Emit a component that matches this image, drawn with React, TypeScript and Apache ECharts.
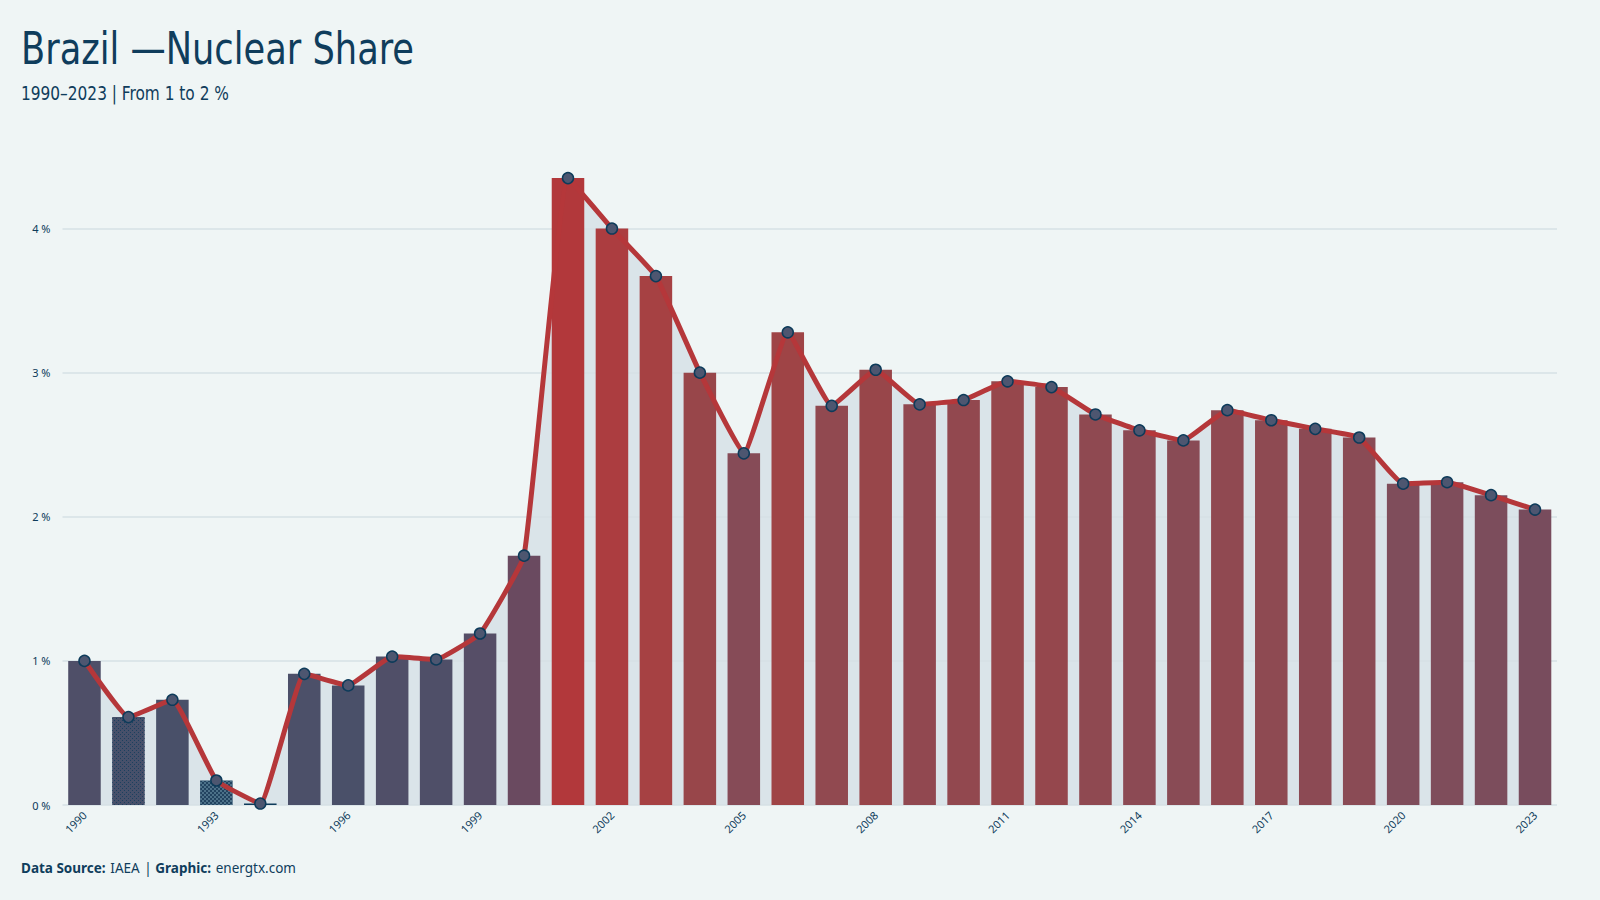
import React, { useEffect, useRef } from "react";
import * as echarts from "echarts";

const years = [
  "1990","1991","1992","1993","1994","1995","1996","1997","1998","1999",
  "2000","2001","2002","2003","2004","2005","2006","2007","2008","2009",
  "2010","2011","2012","2013","2014","2015","2016","2017","2018","2019",
  "2020","2021","2022","2023",
];
const nuclearShare = [
  1.0, 0.61, 0.73, 0.17, 0.01, 0.91, 0.83, 1.03, 1.01, 1.19,
  1.73, 4.35, 4.0, 3.67, 3.0, 2.44, 3.28, 2.77, 3.02, 2.78,
  2.81, 2.94, 2.9, 2.71, 2.6, 2.53, 2.74, 2.67, 2.61, 2.55,
  2.23, 2.24, 2.15, 2.05,
];
const dottedYears = ["1991"];
const checkedYears = ["1993"];

const titleText = "Brazil —Nuclear Share";
const subtitleText = "1990–2023 | From 1 to 2 %";

const NAVY = "#0d3b5a";
const RED = "#b5373a";
const TITLE_FONT = "'DejaVu Sans Condensed', 'DejaVu Sans', sans-serif";

export default function App() {
  const ref = useRef<HTMLDivElement>(null);
  useEffect(() => {
    document.body.style.margin = "0";
    if (!ref.current) return;
    const chart = echarts.init(ref.current, undefined, { renderer: "svg" });
    const barData = nuclearShare.map((v, i) => {
      const y = years[i];
      if (dottedYears.includes(y)) {
        return {
          value: v,
          itemStyle: {
            decal: {
              symbol: "rect",
              symbolSize: 1,
              color: "rgba(13,59,90,0.75)",
              dashArrayX: [[1, 3], [0, 2, 1, 1]],
              dashArrayY: [1, 1],
            },
          },
        };
      }
      if (checkedYears.includes(y)) {
        return {
          value: v,
          itemStyle: {
            decal: {
              symbol: "rect",
              symbolSize: 1,
              color: "rgba(110,150,170,0.55)",
              dashArrayX: [[2, 2], [0, 2, 2, 0]],
              dashArrayY: [2, 0],
            },
          },
        };
      }
      return v;
    });
    const gridColor = "#d6e0e4";
    chart.setOption({
      animation: false,
      backgroundColor: "#eff5f5",
      textStyle: { fontFamily: "'Noto Sans', sans-serif" },
      graphic: [
        {
          type: "text",
          x: 21,
          y: 27,
          scaleX: 0.89,
          style: {
            text: titleText,
            font: `normal 44px ${TITLE_FONT}`,
            fill: "#0f3d5c",
            verticalAlign: "top",
          },
        },
        {
          type: "text",
          x: 21,
          y: 84,
          scaleX: 0.9,
          style: {
            text: subtitleText,
            font: `normal 19px ${TITLE_FONT}`,
            fill: "#0f3d5c",
            verticalAlign: "top",
          },
        },
      ],
      title: [
        {
          text: "{b|Data Source:} {n|IAEA} {n|| }{b|Graphic:} {n|energtx.com}",
          left: 16,
          top: 854,
          textStyle: {
            fontWeight: "normal",
            rich: {
              b: { fontFamily: "'Noto Sans', sans-serif", fontWeight: "bold", fontSize: 13.5, color: "#0f3d5c" },
              n: { fontFamily: "'Noto Sans', sans-serif", fontWeight: "normal", fontSize: 13.5, color: "#0f3d5c" },
            },
          },
        },
      ],
      grid: { left: 62.5, right: 43, top: 156.5, bottom: 95, containLabel: false },
      visualMap: {
        type: "continuous",
        show: false,
        seriesIndex: 0,
        min: 0,
        max: 4.4,
        inRange: {
          color: [
            "#0d3b5a", "#44506a", "#4b5069", "#5a4d66", "#6b4a60",
            "#7e4d5c", "#8d4a53", "#9a4548", "#a44244", "#ab3e41", "#b3373a",
          ],
        },
      },
      xAxis: {
        type: "category",
        data: years,
        boundaryGap: true,
        axisLine: { show: false },
        axisTick: { show: false },
        axisLabel: {
          interval: 2,
          rotate: 45,
          fontSize: 11,
          color: NAVY,
          margin: 8,
        },
      },
      yAxis: {
        type: "value",
        min: 0,
        max: 4.5,
        interval: 1,
        z: 1.5,
        axisLine: { show: false },
        axisTick: { show: false },
        axisLabel: {
          formatter: (v: number) => `${v} %`,
          showMaxLabel: false,
          fontSize: 11,
          color: NAVY,
          margin: 12,
        },
        splitLine: {
          lineStyle: {
            color: [gridColor, gridColor, gridColor, gridColor, gridColor, "rgba(0,0,0,0)"],
            width: 1.5,
          },
        },
      },
      series: [
        {
          type: "bar",
          data: barData,
          barCategoryGap: "26%",
          z: 2,
        },
        {
          type: "line",
          data: nuclearShare,
          smooth: 0.1,
          symbol: "none",
          lineStyle: { width: 0 },
          areaStyle: { color: "#dae4e9", opacity: 1 },
          z: 1,
          silent: true,
        },
        {
          type: "line",
          data: nuclearShare,
          smooth: 0.1,
          symbol: "circle",
          symbolSize: 11,
          lineStyle: { color: RED, width: 5 },
          itemStyle: { color: "#4d5670", borderColor: NAVY, borderWidth: 1.5 },
          z: 3,
        },
      ],
    });
    return () => chart.dispose();
  }, []);
  return <div ref={ref} style={{ width: 1600, height: 900 }} />;
}
